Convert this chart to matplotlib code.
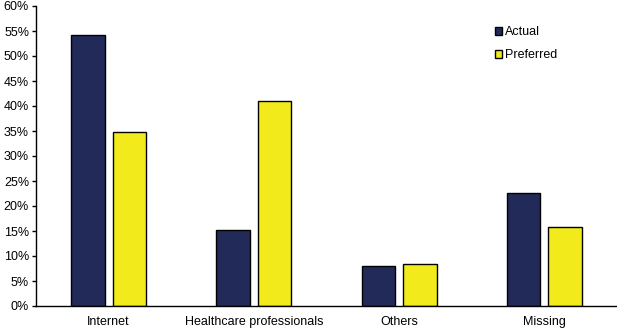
import matplotlib
matplotlib.use('Agg')
import matplotlib.pyplot as plt
import numpy as np
from matplotlib.ticker import PercentFormatter

plt.rcParams['font.family'] = ['Liberation Sans', 'DejaVu Sans']

#data
categories = ['Internet', 'Healthcare professionals', 'Others', 'Missing']
actual = [54.3, 15.2, 8.0, 22.6]
preferred = [34.8, 41.0, 8.4, 15.9]

fig = plt.figure(figsize=(6.17, 3.28), dpi=100)
ax = fig.add_axes([36/617, 22/328, 581/617, 300/328])

x = np.arange(len(categories))
w = 0.23
gap = 0.055
ax.bar(x - (w + gap)/2, actual, w, color='#222a5a', edgecolor='black', lw=1, label='Actual')
ax.bar(x + (w + gap)/2, preferred, w, color='#f2ea1a', edgecolor='black', lw=1, label='Preferred')

ax.set_xlim(-0.5, 3.5)
ax.set_ylim(0, 60)
ax.set_yticks(np.arange(0, 61, 5))
ax.yaxis.set_major_formatter(PercentFormatter(decimals=0))
ax.set_xticks(x)
ax.set_xticklabels(categories)
ax.tick_params(axis='x', length=0, pad=7, labelsize=9)
ax.tick_params(axis='y', length=3, width=1, direction='out', pad=2, labelsize=9)
for s in ['top', 'right']:
    ax.spines[s].set_visible(False)
ax.spines['left'].set_linewidth(1)
ax.spines['bottom'].set_linewidth(1)

ax.legend(loc='upper left', bbox_to_anchor=(0.77, 0.97), frameon=False, fontsize=9,
          handlelength=0.6, handleheight=0.6, handletextpad=0.25, labelspacing=0.9)

fig.savefig('out.png', dpi=100)
